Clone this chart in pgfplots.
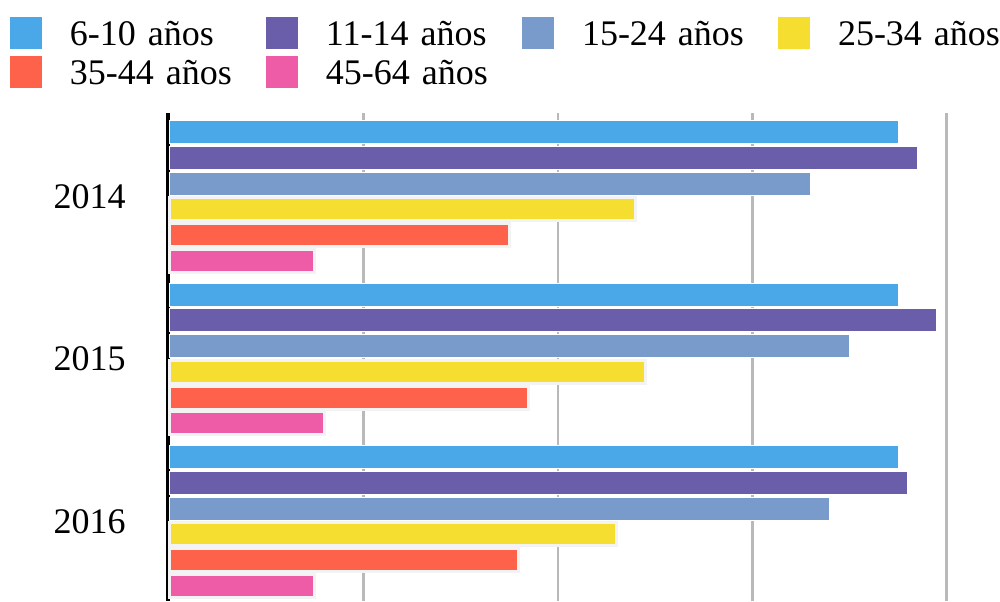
\documentclass[border=0pt]{standalone}
\usepackage{pgfplots}
\pgfplotsset{compat=1.18}
\usepackage{fontspec}
\setmainfont{Liberation Serif}
\definecolor{cA}{RGB}{75,168,232}
\definecolor{cB}{RGB}{106,93,170}
\definecolor{cC}{RGB}{120,155,203}
\definecolor{cD}{RGB}{245,222,47}
\definecolor{cE}{RGB}{255,98,74}
\definecolor{cF}{RGB}{238,91,166}
\definecolor{gridc}{RGB}{185,185,185}
\definecolor{halo}{RGB}{243,243,243}
\begin{document}
\begin{tikzpicture}
\begin{axis}[
  scale only axis,
  width=390.5pt, height=244pt,
  xbar,
  y dir=reverse,
  xmin=-0.35, xmax=80,
  ymin=-0.515, ymax=2.49,
  ytick={0,1,2},
  yticklabels={2014,2015,2016},
  xtick={20,40,60,80},
  xticklabels={},
  extra x ticks={-0.13},
  extra x tick labels={},
  extra x tick style={grid style={black, line width=2pt}},
  major tick length=0pt,
  xmajorgrids=true,
  grid style={gridc, line width=1.3pt},
  axis line style={draw=none},
  bar width=0.1416,
  font=\fontsize{18}{21.6}\selectfont,
  /pgf/number format/assume math mode=true,
  yticklabel style={inner sep=0pt, anchor=east, xshift=-19.8pt, font=\fontsize{18}{21.6}\selectfont},
  legend columns=4,
  legend image code/.code={\fill[#1,draw=none] (0pt,-2pt) rectangle (16pt,14pt);},
  legend style={
    draw=none, fill=none, inner sep=0pt, outer sep=0pt,
    at={(axis description cs:0,1)}, anchor=north west,
    xshift=-77.8pt, yshift=48pt,
    font=\fontsize{18}{21.6}\selectfont,
    row sep=3.5pt,
    nodes={inner sep=0pt, anchor=base west, text width=98pt, align=left},
    /tikz/every odd column/.append style={column sep=14pt},
    /tikz/every even column/.append style={column sep=0pt},
  },
]
\addplot[fill=cA, draw=white, line width=0.5pt, bar shift=-0.396] coordinates {(75,0) (75,1) (75,2)};
\addlegendentry{6-10 años}
\addplot[fill=cB, draw=white, line width=0.5pt, bar shift=-0.238] coordinates {(77,0) (79,1) (76,2)};
\addlegendentry{11-14 años}
\addplot[fill=cC, draw=white, line width=0.5pt, bar shift=-0.079] coordinates {(66,0) (70,1) (68,2)};
\addlegendentry{15-24 años}
\addplot[fill=cD, draw=halo, line width=1.5pt, bar shift=0.079] coordinates {(48,0) (49,1) (46,2)};
\addlegendentry{25-34 años}
\addplot[fill=cE, draw=halo, line width=1.5pt, bar shift=0.238] coordinates {(35,0) (37,1) (36,2)};
\addlegendentry{35-44 años}
\addplot[fill=cF, draw=halo, line width=1.5pt, bar shift=0.396] coordinates {(15,0) (16,1) (15,2)};
\addlegendentry{45-64 años}
\coordinate (O) at (axis description cs:0,0);
\end{axis}
\pgfresetboundingbox
\path[use as bounding box] (O) ++(-82.8pt,0pt) rectangle ++(500pt,300.5pt);
\end{tikzpicture}
\end{document}
